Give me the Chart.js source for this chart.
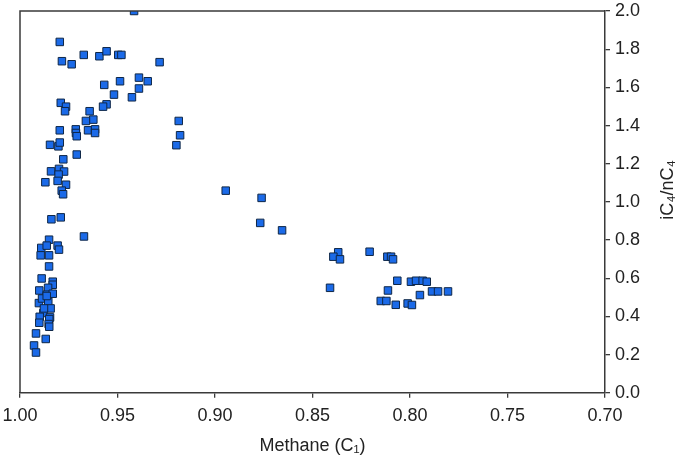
<!DOCTYPE html>
<html>
<head>
<meta charset="utf-8">
<script src="https://cdn.jsdelivr.net/npm/chart.js@4.4.1/dist/chart.umd.min.js"></script>
<style>
  html, body { margin: 0; padding: 0; background: #fff; }
  #wrap { width: 685px; height: 462px; }
</style>
</head>
<body>
<div id="wrap"><canvas id="chart"></canvas></div>
<script>
// methane fraction (C1) and iC4/nC4 ratio
const methane = [
    0.9415, 0.9796, 0.9785, 0.9735, 0.9673, 0.9593, 0.9556, 0.9496, 0.9480, 0.9284,
    0.9568, 0.9487, 0.9390, 0.9345, 0.9390, 0.9518, 0.9426, 0.9791, 0.9764, 0.9769,
    0.9556, 0.9574, 0.9643, 0.9624, 0.9662, 0.9186, 0.9179, 0.9198, 0.9796, 0.9714,
    0.9713, 0.9709, 0.9651, 0.9615, 0.9615, 0.9846, 0.9803, 0.9796, 0.9709, 0.9778,
    0.9841, 0.9800, 0.9774, 0.9802, 0.9870, 0.9807, 0.9764, 0.9786, 0.9779, 0.8945,
    0.9839, 0.9791, 0.8761, 0.8768, 0.8656,
    0.9672, 0.9851, 0.9891, 0.9863, 0.9807, 0.9800, 0.9894, 0.9851, 0.9851, 0.9889,
    0.9832, 0.9832, 0.9901, 0.9856, 0.9862, 0.9832, 0.9903, 0.9887, 0.9855, 0.9843,
    0.9880, 0.9899, 0.9846, 0.9850, 0.9901, 0.9853, 0.9850, 0.9918, 0.9868, 0.9928,
    0.9918, 0.9877, 0.9863,
    0.8368, 0.8393, 0.8359, 0.8207, 0.8116, 0.8097, 0.8087, 0.8410, 0.8065, 0.8113,
    0.8150, 0.8121, 0.8073, 0.8012, 0.7990, 0.7949, 0.7995, 0.7969, 0.7935, 0.7914,
    0.7887, 0.7856, 0.7805
];
const ratio = [
    2.000, 1.838, 1.737, 1.721, 1.770, 1.763, 1.789, 1.770, 1.770, 1.732,
    1.613, 1.632, 1.651, 1.632, 1.594, 1.562, 1.548, 1.519, 1.499, 1.475,
    1.511, 1.499, 1.475, 1.431, 1.424, 1.424, 1.349, 1.297, 1.375, 1.380,
    1.361, 1.344, 1.375, 1.380, 1.361, 1.299, 1.291, 1.311, 1.248, 1.223,
    1.160, 1.173, 1.159, 1.143, 1.103, 1.110, 1.090, 1.059, 1.040, 1.059,
    0.909, 0.919, 1.021, 0.890, 0.851,
    0.819, 0.802, 0.759, 0.771, 0.771, 0.750, 0.720, 0.720, 0.662, 0.599,
    0.582, 0.566, 0.536, 0.550, 0.514, 0.519, 0.470, 0.494, 0.477, 0.442,
    0.418, 0.398, 0.395, 0.386, 0.367, 0.360, 0.346, 0.311, 0.282, 0.248,
    0.211, 0.442, 0.507,
    0.736, 0.713, 0.699, 0.739, 0.713, 0.713, 0.699, 0.550, 0.587, 0.536,
    0.481, 0.481, 0.461, 0.468, 0.460, 0.512, 0.582, 0.587, 0.587, 0.582,
    0.531, 0.531, 0.531
];
const xTitle = 'Methane (C\u2081)';
const yTitle = 'iC\u2084/nC\u2084';

const points = methane.map((m, i) => ({ x: m, y: ratio[i] }));
const axisColor = '#3a3a3a';
const fontFamily = '"Liberation Sans", Arial, Helvetica, sans-serif';

// frame on top/left plus the y title reading bottom-to-top
const framePlugin = {
    id: 'frame',
    afterDraw(chart) {
        const { ctx, chartArea } = chart;
        ctx.save();
        ctx.strokeStyle = axisColor;
        ctx.lineWidth = 1.5;
        ctx.beginPath();
        ctx.moveTo(chartArea.left, chartArea.bottom);
        ctx.lineTo(chartArea.left, chartArea.top);
        ctx.lineTo(chartArea.right, chartArea.top);
        ctx.stroke();

        ctx.fillStyle = '#222';
        ctx.font = '18px ' + fontFamily;
        ctx.textAlign = 'center';
        ctx.textBaseline = 'middle';
        ctx.translate(668, (chartArea.top + chartArea.bottom) / 2 - 12);
        ctx.rotate(-Math.PI / 2);
        ctx.fillText(yTitle, 0, 0);
        ctx.restore();
    }
};

new Chart(document.getElementById('chart').getContext('2d'), {
    type: 'scatter',
    data: {
        datasets: [{
            data: points,
            pointStyle: 'rect',
            pointRadius: 5.3,
            pointHoverRadius: 5.3,
            backgroundColor: '#1b6ae8',
            borderColor: '#0f2747',
            borderWidth: 1
        }]
    },
    options: {
        responsive: true,
        maintainAspectRatio: false,
        animation: false,
        layout: { padding: { left: 0, right: 40, top: 0, bottom: 5 } },
        plugins: { legend: { display: false }, tooltip: { enabled: false } },
        scales: {
            x: {
                type: 'linear',
                position: 'bottom',
                reverse: true,
                min: 0.70,
                max: 1.00,
                afterFit: s => { s.paddingLeft = 20; s.paddingRight = 0; },
                ticks: {
                    stepSize: 0.05,
                    color: '#222',
                    font: { family: fontFamily, size: 18 },
                    maxRotation: 0,
                    padding: 7,
                    callback: v => v.toFixed(2)
                },
                grid: { drawOnChartArea: false, tickLength: 5, color: axisColor, lineWidth: 1.3 },
                border: { color: axisColor, width: 1.5 },
                title: {
                    display: true,
                    text: xTitle,
                    color: '#222',
                    font: { family: fontFamily, size: 18 },
                    padding: { top: 2, bottom: 0 }
                }
            },
            y: {
                type: 'linear',
                position: 'right',
                min: 0,
                max: 2.0,
                afterFit: s => { s.paddingTop = 11; s.paddingBottom = 0; },
                ticks: {
                    stepSize: 0.2,
                    color: '#222',
                    font: { family: fontFamily, size: 18 },
                    padding: 5,
                    callback: v => v.toFixed(1)
                },
                grid: { drawOnChartArea: false, tickLength: 5, color: axisColor, lineWidth: 1.3 },
                border: { color: axisColor, width: 1.5 }
            }
        }
    },
    plugins: [framePlugin]
});
</script>
</body>
</html>
